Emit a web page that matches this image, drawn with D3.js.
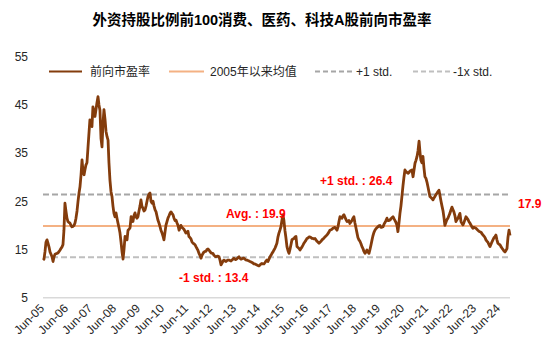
<!DOCTYPE html>
<html><head><meta charset="utf-8">
<script src="https://cdn.jsdelivr.net/npm/d3@7"></script>
<style>
body{margin:0;background:#fff;}
svg{display:block;font-family:"Liberation Sans","Noto Sans CJK SC",Arial,sans-serif;}
</style></head>
<body><svg id="c" width="550" height="357"></svg>
<script>
// Semi-monthly forward P/E readings, starting 2005-06-01 (1st and 16th of each month)
const startDate = "2005-06-01";
const peValues = [
12.8,13.0,14.5,16.5,17.0,16.3,15.5,14.5,14.0,13.5,
12.5,13.5,14.0,14.1,14.2,14.3,14.6,14.9,15.2,15.5,
16.0,19.0,24.6,23.0,21.5,20.8,20.6,20.5,20.0,19.7,
19.8,20.0,20.5,21.5,23.0,25.0,26.7,28.0,30.5,33.6,
31.0,30.5,31.5,32.5,33.0,36.0,39.0,41.9,41.0,40.5,
44.6,43.5,42.6,44.0,45.5,46.7,45.0,43.9,38.0,36.3,
41.2,44.0,42.0,39.5,38.4,37.7,33.0,29.4,27.0,26.0,
24.0,22.5,21.8,22.6,21.5,20.5,19.5,18.4,16.5,14.5,
13.0,15.0,17.7,17.3,17.0,19.0,19.2,19.5,21.8,21.0,
20.8,22.0,22.6,21.8,21.5,21.8,23.0,24.0,25.3,24.0,
23.5,23.0,23.2,24.0,25.0,26.0,26.5,26.7,25.0,24.6,
25.0,24.0,23.2,22.8,22.0,21.1,20.5,19.8,19.0,18.5,
17.8,17.0,18.5,20.0,20.8,21.5,22.0,22.5,22.8,22.5,
22.2,21.5,21.0,21.1,20.5,20.0,19.0,19.5,20.0,19.6,
19.4,19.2,18.8,18.4,18.6,18.8,17.7,17.5,17.2,16.6,
16.3,16.2,16.0,15.6,15.2,14.8,14.2,13.8,13.2,13.8,
14.2,14.5,14.6,14.6,15.0,15.1,14.9,14.6,14.3,14.2,
14.2,13.8,13.6,13.5,13.6,13.6,13.5,12.8,11.8,12.2,
12.6,12.8,12.6,12.5,12.7,12.8,12.8,12.7,12.6,12.8,
13.0,13.2,13.0,12.9,13.1,13.3,13.5,13.2,13.0,13.1,
13.2,13.2,13.0,12.8,12.8,12.7,12.6,12.5,12.4,12.3,
12.2,12.0,12.0,11.9,11.8,11.7,11.6,11.8,12.0,12.1,
12.0,12.0,12.3,12.6,12.8,12.5,13.0,13.5,13.8,14.2,
14.5,14.9,15.3,15.8,16.3,17.5,18.4,19.0,19.7,21.0,
22.2,21.0,19.0,17.5,15.6,14.8,14.2,15.0,16.0,17.0,
17.2,17.3,17.6,17.7,15.6,15.4,15.2,14.9,15.2,15.5,
15.9,16.3,16.6,16.9,17.3,17.4,17.6,17.6,17.5,17.3,
17.3,17.2,17.3,17.0,16.7,16.5,16.3,16.5,16.7,17.0,
17.2,17.4,17.6,17.8,18.0,18.3,18.6,19.0,19.1,19.2,
19.4,19.5,19.6,19.3,19.0,19.7,20.8,21.8,21.6,21.5,
22.0,22.2,21.7,21.2,20.8,20.9,21.0,20.4,20.7,21.0,
21.5,21.8,20.5,19.5,18.5,17.5,17.0,16.7,16.2,15.6,
15.2,14.6,14.2,14.5,14.9,14.5,14.2,15.0,16.0,17.0,
17.8,18.5,19.0,19.3,19.5,19.7,19.9,20.0,19.6,19.6,
19.7,20.2,20.6,21.0,21.5,21.0,21.0,21.1,21.4,21.6,
21.8,21.4,21.0,20.6,20.0,18.7,20.5,22.5,24.0,26.0,
28.2,30.0,31.5,31.2,31.0,30.8,31.0,31.3,31.4,31.5,
30.1,31.5,32.9,33.5,34.3,35.5,37.5,35.0,33.5,33.0,
34.3,32.0,30.1,29.8,29.0,28.0,27.0,26.0,25.8,25.6,
25.3,25.7,26.0,26.4,26.7,27.0,27.3,26.2,25.0,24.0,
23.0,21.5,20.0,20.6,21.2,21.5,22.0,22.5,23.2,23.8,
23.3,22.8,22.0,20.8,21.2,21.5,22.0,22.5,20.8,20.4,
20.1,20.6,21.2,21.8,21.5,21.2,20.8,20.5,20.1,19.7,
19.4,19.6,19.5,19.4,19.2,19.0,18.8,18.7,18.6,18.3,
18.0,17.8,17.5,17.0,16.7,16.5,16.0,15.6,16.1,16.6,
17.0,17.4,17.7,18.0,17.0,16.3,16.1,16.0,15.6,15.3,
15.0,14.7,14.5,14.8,15.2,17.5,19.0,17.9
];
const avgValue = 19.9;
const plusStd = 26.4;
const minusStd = 13.4;
const lastValue = 17.9;
const yTicks = [5,15,25,35,45,55];
const xTickYears = d3.range(2005, 2025);
const legendLabels = ["前向市盈率","2005年以来均值","+1 std.","-1x std."];
const titleText = "外资持股比例前100消费、医药、科技A股前向市盈率";

const parse = d3.timeParse("%Y-%m-%d");
const d0 = parse(startDate);
const dates = peValues.map((v,i)=> new Date(d0.getFullYear(), d0.getMonth()+Math.floor(i/2), i%2 ? 16 : 1));
const data = peValues.map((v,i)=>({date:dates[i], v}));

const svg = d3.select("#c");
const L = 43, R = 510;
const x = d3.scaleTime().domain([dates[0], dates[dates.length-1]]).range([L, R]);
const y = d3.scaleLinear().domain([5,55]).range([297.7, 56.7]);

// title
svg.append("text").attr("x",262).attr("y",25).attr("text-anchor","middle")
  .attr("font-size",14.5).attr("font-weight","bold").attr("fill","#000").text(titleText);

// y tick labels
svg.append("g").selectAll("text").data(yTicks).join("text")
  .attr("x",28).attr("y",d=>y(d)).attr("dy","0.35em").attr("text-anchor","end")
  .attr("font-size",12).attr("fill","#262626").text(d=>d);

// baseline
svg.append("line").attr("x1",L).attr("x2",R).attr("y1",y(5)).attr("y2",y(5))
  .attr("stroke","#D9D9D9").attr("stroke-width",1.5);

// x tick labels
const xt = xTickYears.map(yr=>new Date(yr,5,1));
const fmt = d3.timeFormat("%b-%y");
svg.append("g").selectAll("text").data(xt).join("text")
  .attr("transform",d=>`translate(${x(d)+2},309) rotate(-45)`)
  .attr("text-anchor","end").attr("font-size",12).attr("fill","#262626").text(d=>fmt(d));

// reference lines
svg.append("line").attr("x1",L).attr("x2",R).attr("y1",y(plusStd)).attr("y2",y(plusStd))
  .attr("stroke","#A6A6A6").attr("stroke-width",2).attr("stroke-dasharray","6,3");
svg.append("line").attr("x1",L).attr("x2",R).attr("y1",y(minusStd)).attr("y2",y(minusStd))
  .attr("stroke","#BFBFBF").attr("stroke-width",2).attr("stroke-dasharray","6,3");
svg.append("line").attr("x1",L).attr("x2",R).attr("y1",y(avgValue)).attr("y2",y(avgValue))
  .attr("stroke","#F4B183").attr("stroke-width",2);

// main line
svg.append("path").datum(data)
  .attr("d", d3.line().x(d=>x(d.date)).y(d=>y(d.v)))
  .attr("fill","none").attr("stroke","#843C0C").attr("stroke-width",2.8).attr("stroke-linejoin","round");

// annotations
const ann = svg.append("g").attr("font-size",12).attr("font-weight","bold").attr("fill","#FF0000");
ann.append("text").attr("x",226).attr("y",218).text("Avg. : " + avgValue.toFixed(1));
ann.append("text").attr("x",320).attr("y",185).text("+1 std. : " + plusStd.toFixed(1));
ann.append("text").attr("x",179).attr("y",282).text("-1 std. : " + minusStd.toFixed(1));
ann.append("text").attr("x",518).attr("y",208).text(lastValue.toFixed(1));

// legend
const lg = svg.append("g").attr("font-size",12).attr("fill","#262626");
const items = [
  {x1:49,x2:82,tx:90,stroke:"#843C0C",dash:null},
  {x1:169,x2:204,tx:210,stroke:"#F4B183",dash:null},
  {x1:315,x2:353,tx:356,stroke:"#A6A6A6",dash:"5,3"},
  {x1:413,x2:450,tx:453,stroke:"#BFBFBF",dash:"5,3"}
];
items.forEach((it,i)=>{
  lg.append("line").attr("x1",it.x1).attr("x2",it.x2).attr("y1",71.5).attr("y2",71.5)
    .attr("stroke",it.stroke).attr("stroke-width",2).attr("stroke-dasharray",it.dash);
  lg.append("text").attr("x",it.tx).attr("y",71.5).attr("dy","0.35em").text(legendLabels[i]);
});
</script></body></html>
